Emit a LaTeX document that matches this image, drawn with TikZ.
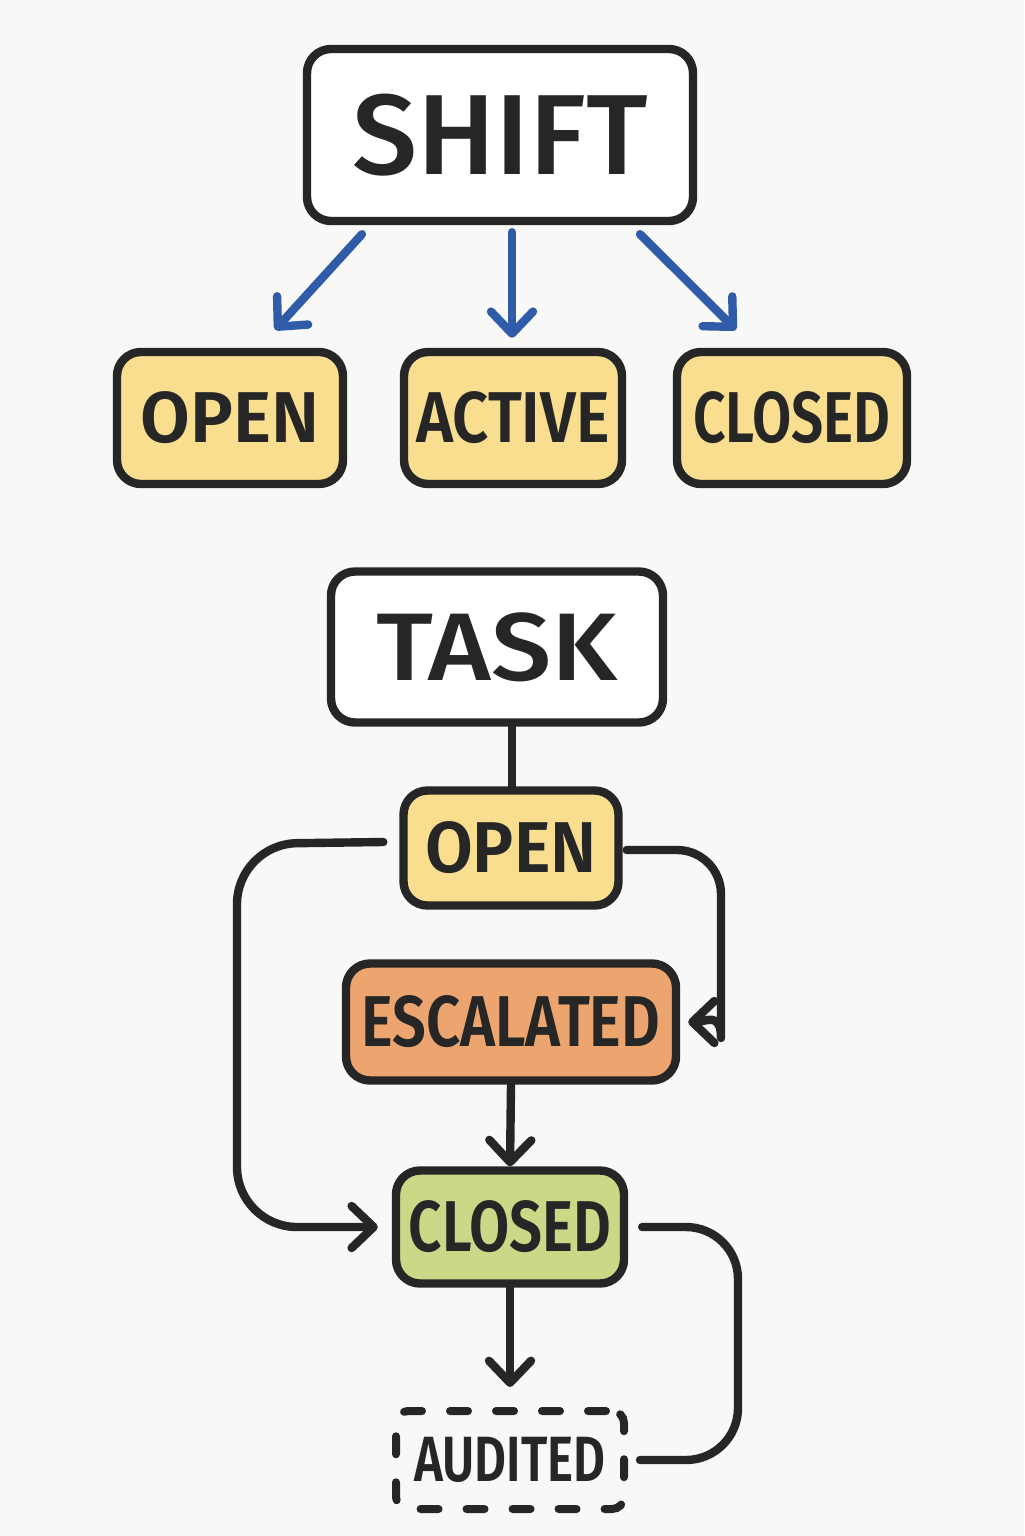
\documentclass[tikz,border=0pt]{standalone}
\usepackage{fontspec}
\setmainfont{Fira Sans}[BoldFont=* SemiBold]
\newfontfamily\medfont{Fira Sans}[UprightFont=* Medium]
\usetikzlibrary{arrows.meta,calc}
\definecolor{ink}{HTML}{262626}
\definecolor{bg}{HTML}{F8F8F6}
\definecolor{ylw}{HTML}{F9DE90}
\definecolor{org}{HTML}{EDA56F}
\definecolor{grn}{HTML}{C9D987}
\definecolor{blu}{HTML}{2F5BA8}
\newcommand\hs[2]{\scalebox{#1}[1]{#2}}
\tikzset{
  box/.style={draw=ink, line width=4.2pt, rounded corners=12pt, text=ink, inner sep=0pt, font=\bfseries},
  title/.style={box, fill=white, font=\medfont\fontsize{57}{60}\selectfont},
  state/.style={box, font=\bfseries\fontsize{36}{40}\selectfont},
  conn/.style={draw=ink, line width=4.2pt, line cap=round, line join=round},
  barb/.style={-{Straight Barb[round,length=11pt,width=21pt]}},
  bconn/.style={draw=blu, line width=4.2pt, line cap=round, line join=round, barb},
}
\begin{document}
\begin{tikzpicture}[x=0.5pt,y=-0.5pt]
\fill[bg] (0,0) rectangle (1024,1536);
\useasboundingbox (0,0) rectangle (1024,1536);

% SHIFT group
\node[title, minimum width=193pt, minimum height=86pt] (sh) at (500,135) {\hs{1.02}{SHIFT}};
\node[state, fill=ylw, minimum width=113pt, minimum height=66pt] (op1) at (230,418) {\hs{1.0}{OPEN}};
\node[state, fill=ylw, minimum width=109pt, minimum height=66pt] (ac1) at (513,418) {\hs{0.88}{ACTIVE}};
\node[state, fill=ylw, minimum width=115pt, minimum height=66pt] (cl1) at (792,418) {\hs{0.79}{CLOSED}};

\draw[bconn] ($(sh.south)+(-138,9)$) -- ($(op1.north)+(45,-18)$);
\draw[bconn] ($(sh.south)+(12,7)$) -- ($(ac1.north)+(-1,-10)$);
\draw[bconn] ($(sh.south)+(140,9)$) -- ($(cl1.north)+(-56,-18)$);

% TASK group
\node[title, minimum width=166pt, minimum height=75.5pt, font=\medfont\fontsize{48}{52}\selectfont] (tk) at (497,647) {\hs{1.12}{TASK}};
\node[state, fill=ylw, minimum width=107.5pt, minimum height=57.5pt] (ot) at (511,848) {\hs{0.96}{OPEN}};
\node[state, fill=org, minimum width=165pt, minimum height=58.5pt] (es) at (511,1022) {\hs{0.83}{ESCALATED}};
\node[state, fill=grn, minimum width=114pt, minimum height=56.5pt] (ct) at (510,1227) {\hs{0.81}{CLOSED}};
\node[state, dashed, line width=4pt, line cap=round, dash pattern=on 9pt off 14pt, dash phase=-3pt, minimum width=114pt, minimum height=49pt, rounded corners=6pt, font=\bfseries\fontsize{32}{36}\selectfont] (au) at (510,1460) {\hs{0.77}{AUDITED}};

\coordinate (lx) at (237,0);
\coordinate (rx) at (721,0);
\coordinate (rx2) at (738,0);

\draw[conn] ($(tk.south)+(15,0)$) -- ($(ot.north)+(1,0)$);
\draw[conn, barb, rounded corners=30pt] ($(ot.west)+(-16,-6)$) -- ($(ot.west -| lx)+(0,-4)$) -- (ct.west -| lx) -- ($(ct.west)+(-14,0)$);
\draw[conn, barb, rounded corners=22pt] ($(ot.east)+(4,2)$) -- ($(ot.east -| rx)+(0,2)$) -- ($(es.east -| rx)+(0,-28)$) to[out=-90,in=0] ($(es.east)+(8,0)$);
\draw[conn, barb] (es.south) -- (ct.north);
\draw[conn, barb] (ct.south) -- ($(au.north)+(0,-20)$);
\draw[conn, rounded corners=26pt] ($(ct.east)+(14,0)$) -- (ct.east -| rx2) -- (au.east -| rx2) -- ($(au.east)+(12,0)$);
\end{tikzpicture}
\end{document}
